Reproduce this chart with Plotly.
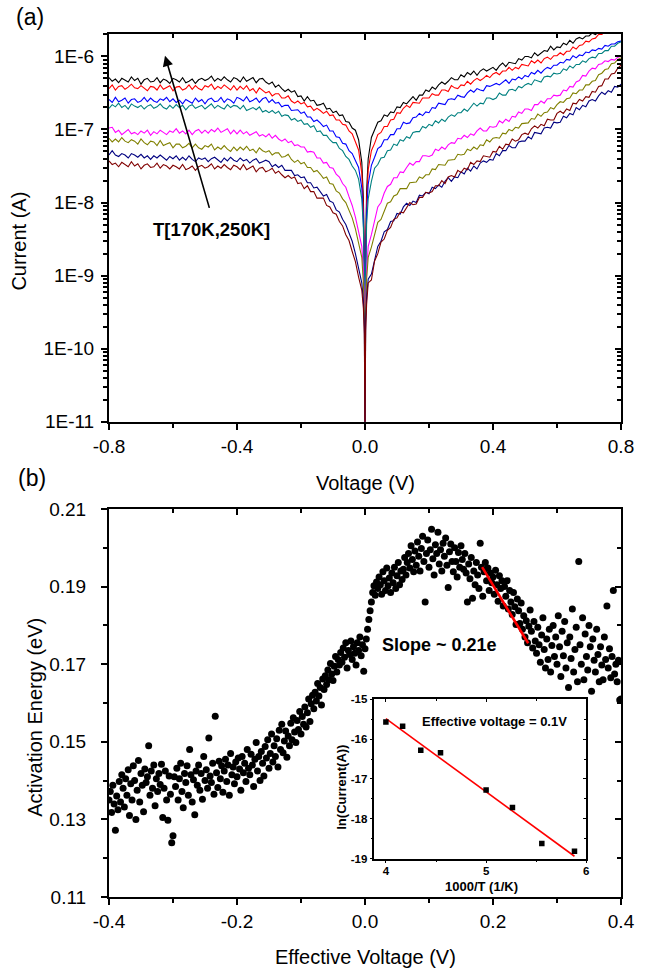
import numpy as np
import plotly.graph_objects as go

FONT = "Liberation Sans, Arial, Helvetica, sans-serif"

# ---------------- panel (a): I-V sweeps at eight temperatures ----------------
TEMPERATURES_K = [250, 240, 230, 220, 200, 190, 180, 170]
CURVE_COLORS = ["#000000", "#FF0000", "#0000FF", "#008080",
                "#FF00FF", "#808000", "#000080", "#800000"]

# bias sweep: 10 mV steps, with a few extra points around 0 V
VOLTAGE_V = np.concatenate([
    np.round(np.arange(-0.80, -0.0099, 0.01), 2),
    [-0.005, -0.002, 0.0, 0.002, 0.005],
    np.round(np.arange(0.01, 0.8001, 0.01), 2),
])

# log10 of the measured current (A), same order as VOLTAGE_V
LOG_I_250K = [
    -6.29, -6.34, -6.31, -6.36, -6.30, -6.32, -6.35, -6.28, -6.33, -6.30,
    -6.38, -6.32, -6.30, -6.35, -6.34, -6.29, -6.36, -6.31, -6.33, -6.37,
    -6.30, -6.32, -6.35, -6.29, -6.36, -6.34, -6.31, -6.37, -6.32, -6.30,
    -6.33, -6.31, -6.27, -6.34, -6.30, -6.33, -6.28, -6.32, -6.35, -6.29,
    -6.31, -6.35, -6.28, -6.34, -6.32, -6.29, -6.36, -6.31, -6.30, -6.35,
    -6.38, -6.35, -6.42, -6.39, -6.44, -6.48, -6.45, -6.49, -6.47, -6.55,
    -6.54, -6.61, -6.55, -6.61, -6.60, -6.67, -6.66, -6.64, -6.72, -6.71,
    -6.77, -6.75, -6.81, -6.80, -6.89, -6.90, -6.98, -7.01, -7.14, -7.45,
    -7.95, -8.75, -11.30, -8.65, -7.85,
    -7.40, -7.11, -7.01, -6.90, -6.88, -6.80, -6.82, -6.76, -6.77, -6.69,
    -6.70, -6.63, -6.65, -6.60, -6.55, -6.60, -6.53, -6.53, -6.46, -6.48,
    -6.42, -6.45, -6.39, -6.35, -6.38, -6.34, -6.29, -6.32, -6.32, -6.25,
    -6.28, -6.22, -6.25, -6.20, -6.26, -6.20, -6.17, -6.20, -6.18, -6.15,
    -6.19, -6.13, -6.09, -6.14, -6.08, -6.09, -6.10, -6.03, -6.05, -6.00,
    -6.00, -6.02, -5.95, -5.99, -5.95, -5.92, -5.93, -5.86, -5.91, -5.87,
    -5.88, -5.82, -5.84, -5.78, -5.82, -5.76, -5.74, -5.76, -5.72, -5.72,
    -5.68, -5.70, -5.67, -5.69, -5.64, -5.66, -5.63, -5.63, -5.63, -5.60]
LOG_I_240K = [
    -6.44, -6.39, -6.46, -6.41, -6.40, -6.45, -6.42, -6.38, -6.43, -6.44,
    -6.40, -6.44, -6.47, -6.41, -6.42, -6.46, -6.39, -6.45, -6.43, -6.40,
    -6.47, -6.42, -6.41, -6.46, -6.44, -6.39, -6.45, -6.40, -6.44, -6.46,
    -6.40, -6.42, -6.38, -6.45, -6.41, -6.44, -6.39, -6.43, -6.46, -6.40,
    -6.46, -6.41, -6.45, -6.40, -6.47, -6.44, -6.50, -6.43, -6.47, -6.50,
    -6.48, -6.54, -6.51, -6.51, -6.57, -6.57, -6.54, -6.61, -6.64, -6.61,
    -6.65, -6.63, -6.69, -6.68, -6.74, -6.71, -6.74, -6.78, -6.75, -6.81,
    -6.80, -6.87, -6.87, -6.93, -6.94, -7.02, -7.06, -7.17, -7.28, -7.60,
    -8.10, -8.85, -11.30, -8.80, -8.00,
    -7.55, -7.29, -7.19, -7.07, -7.04, -6.96, -6.96, -6.87, -6.86, -6.77,
    -6.78, -6.71, -6.67, -6.70, -6.63, -6.63, -6.64, -6.57, -6.57, -6.57,
    -6.51, -6.53, -6.53, -6.46, -6.46, -6.48, -6.40, -6.43, -6.44, -6.39,
    -6.40, -6.34, -6.38, -6.33, -6.30, -6.33, -6.30, -6.26, -6.29, -6.24,
    -6.22, -6.25, -6.20, -6.20, -6.15, -6.19, -6.15, -6.17, -6.11, -6.12,
    -6.13, -6.06, -6.09, -6.05, -6.09, -6.03, -6.01, -6.04, -5.99, -5.99,
    -5.95, -5.98, -5.93, -5.93, -5.87, -5.90, -5.85, -5.84, -5.79, -5.80,
    -5.76, -5.75, -5.70, -5.70, -5.66, -5.65, -5.65, -5.61, -5.61, -5.59]
LOG_I_230K = [
    -6.59, -6.63, -6.56, -6.62, -6.60, -6.57, -6.64, -6.59, -6.58, -6.63,
    -6.61, -6.56, -6.62, -6.57, -6.61, -6.63, -6.58, -6.60, -6.56, -6.62,
    -6.58, -6.63, -6.60, -6.65, -6.59, -6.61, -6.64, -6.57, -6.62, -6.59,
    -6.65, -6.59, -6.57, -6.62, -6.61, -6.56, -6.63, -6.58, -6.60, -6.64,
    -6.56, -6.58, -6.61, -6.55, -6.62, -6.60, -6.57, -6.63, -6.58, -6.56,
    -6.63, -6.59, -6.64, -6.63, -6.69, -6.67, -6.67, -6.74, -6.73, -6.73,
    -6.78, -6.76, -6.83, -6.83, -6.89, -6.87, -6.91, -6.96, -6.94, -7.02,
    -7.02, -7.10, -7.11, -7.19, -7.20, -7.29, -7.33, -7.43, -7.52, -7.80,
    -8.25, -8.95, -11.30, -8.90, -8.15,
    -7.75, -7.49, -7.38, -7.26, -7.23, -7.14, -7.14, -7.07, -7.07, -6.99,
    -6.99, -6.90, -6.92, -6.91, -6.84, -6.83, -6.78, -6.81, -6.76, -6.77,
    -6.70, -6.71, -6.64, -6.65, -6.66, -6.59, -6.58, -6.59, -6.53, -6.55,
    -6.56, -6.50, -6.46, -6.49, -6.44, -6.46, -6.47, -6.40, -6.41, -6.39,
    -6.37, -6.39, -6.35, -6.32, -6.37, -6.31, -6.32, -6.28, -6.31, -6.26,
    -6.28, -6.22, -6.24, -6.19, -6.23, -6.18, -6.15, -6.17, -6.12, -6.12,
    -6.08, -6.09, -6.04, -6.05, -5.99, -6.02, -5.98, -5.99, -5.94, -5.95,
    -5.91, -5.92, -5.89, -5.90, -5.85, -5.86, -5.83, -5.83, -5.80, -5.79]
LOG_I_220K = [
    -6.71, -6.66, -6.69, -6.64, -6.70, -6.67, -6.72, -6.65, -6.68, -6.70,
    -6.67, -6.72, -6.68, -6.66, -6.71, -6.69, -6.65, -6.70, -6.72, -6.67,
    -6.71, -6.66, -6.70, -6.67, -6.73, -6.68, -6.66, -6.71, -6.69, -6.67,
    -6.72, -6.68, -6.65, -6.71, -6.67, -6.70, -6.72, -6.66, -6.70, -6.67,
    -6.68, -6.72, -6.67, -6.74, -6.72, -6.70, -6.73, -6.69, -6.76, -6.74,
    -6.77, -6.74, -6.78, -6.75, -6.82, -6.80, -6.81, -6.87, -6.85, -6.89,
    -6.87, -6.93, -6.92, -6.97, -6.95, -7.03, -7.02, -7.08, -7.08, -7.14,
    -7.18, -7.18, -7.26, -7.29, -7.37, -7.41, -7.50, -7.56, -7.68, -7.95,
    -8.35, -9.05, -11.30, -9.00, -8.30,
    -7.95, -7.71, -7.53, -7.48, -7.39, -7.38, -7.29, -7.28, -7.20, -7.22,
    -7.14, -7.16, -7.10, -7.12, -7.04, -7.03, -7.03, -6.96, -6.98, -6.93,
    -6.95, -6.88, -6.91, -6.86, -6.89, -6.83, -6.80, -6.82, -6.77, -6.77,
    -6.72, -6.75, -6.69, -6.64, -6.68, -6.64, -6.65, -6.57, -6.57, -6.59,
    -6.57, -6.50, -6.53, -6.53, -6.46, -6.45, -6.47, -6.41, -6.43, -6.39,
    -6.37, -6.39, -6.32, -6.34, -6.35, -6.28, -6.27, -6.28, -6.23, -6.24,
    -6.23, -6.17, -6.19, -6.13, -6.16, -6.11, -6.11, -6.06, -6.08, -6.03,
    -6.01, -6.02, -5.96, -5.96, -5.92, -5.92, -5.86, -5.86, -5.82, -5.80]
LOG_I_200K = [
    -6.98, -6.97, -7.04, -7.01, -7.07, -7.03, -7.00, -7.06, -7.04, -7.07,
    -7.02, -7.05, -7.01, -7.08, -7.03, -7.06, -7.01, -7.04, -7.07, -7.02,
    -7.04, -6.99, -7.05, -7.02, -7.06, -7.01, -7.07, -7.02, -7.00, -7.05,
    -7.01, -7.05, -7.00, -7.03, -6.98, -7.04, -7.02, -6.99, -7.06, -7.01,
    -7.06, -7.01, -7.06, -7.03, -7.08, -7.05, -7.03, -7.09, -7.07, -7.10,
    -7.06, -7.12, -7.08, -7.13, -7.16, -7.13, -7.18, -7.16, -7.22, -7.21,
    -7.24, -7.24, -7.31, -7.30, -7.31, -7.39, -7.39, -7.46, -7.45, -7.52,
    -7.53, -7.61, -7.65, -7.74, -7.79, -7.92, -8.04, -8.20, -8.40, -8.60,
    -8.95, -9.40, -11.30, -9.40, -8.95,
    -8.60, -8.44, -8.24, -8.06, -8.00, -7.87, -7.78, -7.75, -7.66, -7.66,
    -7.58, -7.59, -7.52, -7.46, -7.49, -7.44, -7.44, -7.36, -7.36, -7.37,
    -7.35, -7.27, -7.29, -7.24, -7.27, -7.21, -7.18, -7.19, -7.12, -7.13,
    -7.08, -7.11, -7.06, -7.08, -7.02, -6.98, -7.02, -7.02, -6.96, -6.97,
    -6.96, -6.88, -6.91, -6.86, -6.89, -6.82, -6.83, -6.76, -6.78, -6.72,
    -6.72, -6.74, -6.66, -6.66, -6.61, -6.64, -6.58, -6.58, -6.53, -6.54,
    -6.53, -6.46, -6.47, -6.41, -6.42, -6.35, -6.33, -6.26, -6.27, -6.20,
    -6.16, -6.17, -6.11, -6.10, -6.06, -6.07, -6.04, -6.05, -6.01, -6.00]
LOG_I_190K = [
    -7.12, -7.17, -7.13, -7.17, -7.11, -7.16, -7.18, -7.14, -7.16, -7.20,
    -7.13, -7.18, -7.21, -7.16, -7.17, -7.22, -7.15, -7.22, -7.20, -7.18,
    -7.25, -7.20, -7.20, -7.25, -7.23, -7.19, -7.25, -7.20, -7.25, -7.27,
    -7.22, -7.24, -7.20, -7.28, -7.24, -7.27, -7.22, -7.27, -7.30, -7.24,
    -7.29, -7.24, -7.28, -7.23, -7.29, -7.27, -7.32, -7.25, -7.29, -7.31,
    -7.29, -7.35, -7.32, -7.32, -7.38, -7.37, -7.34, -7.41, -7.45, -7.42,
    -7.47, -7.45, -7.52, -7.52, -7.58, -7.56, -7.61, -7.67, -7.65, -7.74,
    -7.75, -7.84, -7.87, -7.95, -8.00, -8.12, -8.21, -8.36, -8.55, -8.75,
    -9.10, -9.50, -11.30, -9.50, -9.05,
    -8.75, -8.61, -8.44, -8.27, -8.23, -8.11, -8.01, -7.99, -7.91, -7.89,
    -7.81, -7.81, -7.81, -7.73, -7.72, -7.72, -7.65, -7.67, -7.62, -7.62,
    -7.54, -7.55, -7.48, -7.49, -7.49, -7.42, -7.41, -7.41, -7.34, -7.35,
    -7.34, -7.27, -7.29, -7.24, -7.27, -7.21, -7.22, -7.14, -7.17, -7.12,
    -7.11, -7.12, -7.05, -7.06, -7.00, -7.02, -6.97, -6.98, -6.92, -6.92,
    -6.91, -6.85, -6.86, -6.79, -6.82, -6.77, -6.76, -6.70, -6.72, -6.66,
    -6.62, -6.63, -6.58, -6.57, -6.50, -6.51, -6.46, -6.46, -6.39, -6.39,
    -6.34, -6.33, -6.25, -6.23, -6.18, -6.17, -6.10, -6.09, -6.04, -6.02]
LOG_I_180K = [
    -7.35, -7.29, -7.35, -7.37, -7.33, -7.35, -7.39, -7.33, -7.35, -7.38,
    -7.34, -7.39, -7.36, -7.41, -7.36, -7.39, -7.35, -7.38, -7.42, -7.37,
    -7.40, -7.36, -7.42, -7.38, -7.42, -7.36, -7.41, -7.44, -7.39, -7.41,
    -7.39, -7.44, -7.40, -7.38, -7.42, -7.45, -7.39, -7.43, -7.38, -7.42,
    -7.44, -7.39, -7.43, -7.41, -7.46, -7.42, -7.40, -7.46, -7.44, -7.42,
    -7.44, -7.51, -7.48, -7.52, -7.49, -7.56, -7.56, -7.56, -7.63, -7.62,
    -7.66, -7.65, -7.73, -7.73, -7.80, -7.79, -7.85, -7.91, -7.89, -7.98,
    -8.00, -8.10, -8.13, -8.23, -8.30, -8.43, -8.53, -8.70, -8.92, -9.10,
    -9.35, -9.70, -11.30, -9.65, -9.30,
    -9.05, -8.98, -8.81, -8.60, -8.53, -8.40, -8.37, -8.26, -8.25, -8.15,
    -8.16, -8.06, -8.01, -8.04, -7.98, -8.00, -7.90, -7.91, -7.86, -7.88,
    -7.79, -7.81, -7.76, -7.79, -7.71, -7.66, -7.71, -7.65, -7.66, -7.58,
    -7.61, -7.53, -7.57, -7.50, -7.54, -7.46, -7.43, -7.45, -7.41, -7.42,
    -7.33, -7.36, -7.29, -7.29, -7.22, -7.25, -7.25, -7.17, -7.16, -7.16,
    -7.10, -7.13, -7.04, -7.05, -7.06, -6.98, -6.97, -6.98, -6.90, -6.91,
    -6.90, -6.82, -6.84, -6.78, -6.80, -6.70, -6.73, -6.67, -6.69, -6.61,
    -6.59, -6.61, -6.54, -6.49, -6.52, -6.47, -6.49, -6.41, -6.42, -6.38]
LOG_I_170K = [
    -7.43, -7.48, -7.46, -7.51, -7.45, -7.48, -7.51, -7.44, -7.50, -7.47,
    -7.54, -7.49, -7.47, -7.52, -7.51, -7.46, -7.53, -7.48, -7.50, -7.54,
    -7.49, -7.51, -7.54, -7.48, -7.55, -7.53, -7.50, -7.56, -7.51, -7.49,
    -7.53, -7.51, -7.47, -7.54, -7.50, -7.53, -7.48, -7.52, -7.55, -7.49,
    -7.51, -7.55, -7.48, -7.55, -7.53, -7.50, -7.58, -7.53, -7.52, -7.58,
    -7.56, -7.53, -7.60, -7.57, -7.62, -7.66, -7.63, -7.67, -7.65, -7.74,
    -7.73, -7.81, -7.77, -7.85, -7.85, -7.94, -7.94, -7.94, -8.04, -8.06,
    -8.14, -8.16, -8.26, -8.32, -8.44, -8.52, -8.67, -8.81, -9.02, -9.20,
    -9.45, -9.80, -11.30, -9.75, -9.40,
    -9.10, -9.06, -8.80, -8.70, -8.54, -8.50, -8.38, -8.34, -8.23, -8.21,
    -8.13, -8.14, -8.06, -8.00, -8.03, -8.02, -7.93, -7.93, -7.86, -7.87,
    -7.85, -7.77, -7.77, -7.70, -7.74, -7.65, -7.63, -7.65, -7.56, -7.59,
    -7.53, -7.55, -7.45, -7.48, -7.43, -7.44, -7.36, -7.37, -7.38, -7.30,
    -7.31, -7.23, -7.27, -7.20, -7.21, -7.13, -7.16, -7.14, -7.07, -7.05,
    -7.07, -6.99, -6.95, -6.98, -6.93, -6.95, -6.86, -6.87, -6.87, -6.78,
    -6.75, -6.78, -6.72, -6.74, -6.64, -6.65, -6.59, -6.61, -6.55, -6.56,
    -6.48, -6.49, -6.41, -6.40, -6.31, -6.31, -6.24, -6.23, -6.16, -6.12]
LOG_CURRENTS = [LOG_I_250K, LOG_I_240K, LOG_I_230K, LOG_I_220K,
                LOG_I_200K, LOG_I_190K, LOG_I_180K, LOG_I_170K]

CURRENT_TICK_VALUES = [1e-11, 1e-10, 1e-9, 1e-8, 1e-7, 1e-6]
CURRENT_TICK_TEXT = ["1E-11", "1E-10", "1E-9", "1E-8", "1E-7", "1E-6"]
VOLTAGE_TICK_VALUES = [-0.8, -0.4, 0.0, 0.4, 0.8]
VOLTAGE_TICK_TEXT = ["-0.8", "-0.4", "0.0", "0.4", "0.8"]
VOLTAGE_MINOR_TICKS = [-0.6, -0.2, 0.2, 0.6]

# ---------------- panel (b): activation energy vs effective voltage ----------------
EFFECTIVE_VOLTAGE_V = np.round(np.arange(-0.4, 0.4 + 1e-9, 0.002), 3)
ACTIVATION_ENERGY_EV = [
    0.1350, 0.1372, 0.1318, 0.1388, 0.1340, 0.1272, 0.1360, 0.1325, 0.1398, 0.1345,
    0.1415, 0.1380, 0.1332, 0.1405, 0.1362, 0.1428, 0.1310, 0.1392, 0.1350, 0.1438,
    0.1400, 0.1300, 0.1375, 0.1452, 0.1345, 0.1418, 0.1388, 0.1320, 0.1430, 0.1395,
    0.1410, 0.1490, 0.1362, 0.1425, 0.1380, 0.1440, 0.1335, 0.1405, 0.1372, 0.1418,
    0.1390, 0.1442, 0.1305, 0.1380, 0.1425, 0.1350, 0.1298, 0.1412, 0.1365, 0.1240,
    0.1258, 0.1410, 0.1385, 0.1432, 0.1350, 0.1405, 0.1445, 0.1372, 0.1330, 0.1418,
    0.1395, 0.1438, 0.1362, 0.1480, 0.1415, 0.1345, 0.1402, 0.1312, 0.1425, 0.1388,
    0.1440, 0.1375, 0.1418, 0.1352, 0.1462, 0.1400, 0.1428, 0.1380, 0.1510, 0.1412,
    0.1395, 0.1445, 0.1365, 0.1566, 0.1420, 0.1382, 0.1450, 0.1405, 0.1438, 0.1370,
    0.1425, 0.1455, 0.1398, 0.1440, 0.1362, 0.1470, 0.1415, 0.1435, 0.1392, 0.1448,
    0.1410, 0.1458, 0.1430, 0.1375, 0.1462, 0.1420, 0.1445, 0.1398, 0.1480, 0.1432,
    0.1415, 0.1468, 0.1440, 0.1385, 0.1455, 0.1498, 0.1425, 0.1462, 0.1400, 0.1475,
    0.1445, 0.1412, 0.1488, 0.1458, 0.1505, 0.1432, 0.1470, 0.1520, 0.1448, 0.1490,
    0.1462, 0.1508, 0.1435, 0.1530, 0.1480, 0.1545, 0.1472, 0.1502, 0.1528, 0.1460,
    0.1515, 0.1490, 0.1548, 0.1505, 0.1562, 0.1525, 0.1498, 0.1555, 0.1532, 0.1578,
    0.1520, 0.1565, 0.1545, 0.1590, 0.1538, 0.1575, 0.1610, 0.1552, 0.1598, 0.1620,
    0.1585, 0.1628, 0.1605, 0.1650, 0.1618, 0.1640, 0.1595, 0.1662, 0.1635, 0.1670,
    0.1648, 0.1685, 0.1660, 0.1702, 0.1675, 0.1658, 0.1695, 0.1720, 0.1680, 0.1712,
    0.1698, 0.1730, 0.1705, 0.1742, 0.1718, 0.1755, 0.1690, 0.1735, 0.1725, 0.1760,
    0.1712, 0.1745, 0.1728, 0.1698, 0.1755, 0.1735, 0.1770, 0.1722, 0.1750, 0.1682,
    0.1740, 0.1765, 0.1790, 0.1815, 0.1838, 0.1860, 0.1885, 0.1902, 0.1878, 0.1912,
    0.1895, 0.1925, 0.1905, 0.1880, 0.1938, 0.1915, 0.1890, 0.1948, 0.1902, 0.1922,
    0.1885, 0.1935, 0.1910, 0.1950, 0.1895, 0.1928, 0.1962, 0.1905, 0.1940, 0.1918,
    0.1945, 0.1975, 0.1930, 0.1962, 0.1985, 0.1948, 0.2005, 0.1970, 0.1938, 0.1992,
    0.1955, 0.2015, 0.1978, 0.1940, 0.1998, 0.2030, 0.1965, 0.1860, 0.1985, 0.2020,
    0.1950, 0.1995, 0.2048, 0.1972, 0.1930, 0.2008, 0.1985, 0.2040, 0.1958, 0.1995,
    0.1940, 0.2012, 0.1978, 0.2025, 0.1955, 0.1898, 0.1990, 0.2010, 0.1965, 0.1938,
    0.2000, 0.1965, 0.1925, 0.1988, 0.1950, 0.2005, 0.1970, 0.1945, 0.1985, 0.1935,
    0.1860, 0.1958, 0.1920, 0.1975, 0.1870, 0.1940, 0.1905, 0.1962, 0.1930, 0.1895,
    0.2012, 0.1950, 0.1875, 0.1938, 0.1962, 0.1915, 0.1948, 0.1890, 0.1935, 0.1910,
    0.1925, 0.1880, 0.1942, 0.1905, 0.1862, 0.1928, 0.1895, 0.1915, 0.1850, 0.1900,
    0.1875, 0.1915, 0.1842, 0.1890, 0.1860, 0.1828, 0.1885, 0.1848, 0.1802, 0.1868,
    0.1838, 0.1805, 0.1858, 0.1790, 0.1825, 0.1770, 0.1812, 0.1755, 0.1798, 0.1840,
    0.1785, 0.1742, 0.1810, 0.1760, 0.1728, 0.1795, 0.1750, 0.1705, 0.1775, 0.1820,
    0.1738, 0.1690, 0.1765, 0.1712, 0.1790, 0.1680, 0.1748, 0.1800, 0.1720, 0.1770,
    0.1700, 0.1825, 0.1745, 0.1668, 0.1785, 0.1722, 0.1810, 0.1690, 0.1755, 0.1640,
    0.1770, 0.1715, 0.1842, 0.1680, 0.1738, 0.1795, 0.1655, 0.1965, 0.1750, 0.1700,
    0.1820, 0.1660, 0.1778, 0.1720, 0.1685, 0.1800, 0.1745, 0.1630, 0.1765, 0.1710,
    0.1680, 0.1790, 0.1725, 0.1655, 0.1745, 0.1698, 0.1660, 0.1770, 0.1712, 0.1850,
    0.1690, 0.1740, 0.1665, 0.1720, 0.1890, 0.1675, 0.1700, 0.1655, 0.1710, 0.1608,
    0.1610,
]
SLOPE_LINE_V = [0.183, 0.255]
SLOPE_LINE_EV = [0.195, 0.1754]

EV_X_TICKS = [-0.4, -0.2, 0.0, 0.2, 0.4]
EV_X_TEXT = ["-0.4", "-0.2", "0.0", "0.2", "0.4"]
EV_X_MINOR = [-0.3, -0.1, 0.1, 0.3]
EA_Y_TICKS = [0.11, 0.13, 0.15, 0.17, 0.19, 0.21]
EA_Y_TEXT = ["0.11", "0.13", "0.15", "0.17", "0.19", "0.21"]
EA_Y_MINOR = [0.12, 0.14, 0.16, 0.18, 0.20]

# ---------------- inset: Arrhenius plot at 0.1 V ----------------
INVERSE_T = [4.000, 4.167, 4.348, 4.545, 5.000, 5.263, 5.556, 5.882]
LN_CURRENT = [-15.57, -15.68, -16.28, -16.34, -17.28, -17.72, -18.62, -18.82]
INSET_X_TICKS = [4, 5, 6]
INSET_X_TEXT = ["<b>4</b>", "<b>5</b>", "<b>6</b>"]
INSET_X_MINOR = [4.5, 5.5]
INSET_Y_TICKS = [-19, -18, -17, -16, -15]
INSET_Y_TEXT = ["<b>-19</b>", "<b>-18</b>", "<b>-17</b>", "<b>-16</b>", "<b>-15</b>"]
INSET_Y_MINOR = [-18.5, -17.5, -16.5, -15.5]

for series in LOG_CURRENTS:
    assert len(series) == len(VOLTAGE_V), len(series)
assert len(ACTIVATION_ENERGY_EV) == len(EFFECTIVE_VOLTAGE_V)

# ---------------- page geometry (pixels) ----------------
W, H = 647, 973
ML, MR, MT, MB = 109, 14, 34, 76
PW, PH = W - ML - MR, H - MT - MB


def fx(px):
    return (px - ML) / PW


def fy(py):
    return (H - MB - py) / PH


TOP_DOMAIN = [fy(421.7), 1.0]
BOTTOM_DOMAIN = [0.0, fy(509.0)]
INSET_X_DOMAIN = [fx(380.7), fx(597.5)]
INSET_Y_DOMAIN = [fy(858.5), fy(699.3)]

I_RANGE = [-11.0, -5.693]
LOG_MINOR = [m * 10.0 ** e for e in range(-11, -6) for m in range(2, 10)] + [2e-6]

fig = go.Figure()

for temp, color, logs in zip(TEMPERATURES_K, CURVE_COLORS, LOG_CURRENTS):
    fig.add_trace(go.Scatter(
        x=VOLTAGE_V, y=[10.0 ** v for v in logs], mode="lines",
        line=dict(color=color, width=1.1), name=f"{temp} K",
        xaxis="x", yaxis="y", showlegend=False))

fig.add_trace(go.Scatter(
    x=EFFECTIVE_VOLTAGE_V, y=ACTIVATION_ENERGY_EV, mode="markers",
    marker=dict(color="black", size=7, line=dict(width=0)),
    xaxis="x3", yaxis="y3", showlegend=False))
fig.add_trace(go.Scatter(
    x=SLOPE_LINE_V, y=SLOPE_LINE_EV, mode="lines",
    line=dict(color="#FF0000", width=2.6), xaxis="x3", yaxis="y3", showlegend=False))

slope, intercept = np.polyfit(INVERSE_T, LN_CURRENT, 1)
fit_x = [min(INVERSE_T), max(INVERSE_T)]
fit_y = [slope * v + intercept for v in fit_x]
fig.add_trace(go.Scatter(
    x=fit_x, y=fit_y, mode="lines", line=dict(color="#FF0000", width=1.6),
    xaxis="x5", yaxis="y5", showlegend=False))
fig.add_trace(go.Scatter(
    x=INVERSE_T, y=LN_CURRENT, mode="markers",
    marker=dict(symbol="square", color="black", size=5.5, line=dict(width=0)),
    xaxis="x5", yaxis="y5", showlegend=False))

# invisible anchors so the mirrored tick axes are rendered
for xa, ya in [("x2", "y"), ("x", "y2"), ("x4", "y3"),
               ("x3", "y4"), ("x6", "y5"), ("x5", "y6")]:
    fig.add_trace(go.Scatter(x=[None], y=[None], xaxis=xa, yaxis=ya, mode="markers",
                             hoverinfo="skip", showlegend=False))

TICKFONT = dict(family=FONT, size=19, color="black")
INSET_TICKFONT = dict(family=FONT, size=11.5, color="black")


def main_axis(rng, vals, text, minor_vals, **kw):
    d = dict(range=rng, tickmode="array", tickvals=vals, ticktext=text,
             ticks="outside", ticklen=6, tickwidth=1.5, tickcolor="black",
             showline=True, linecolor="black", linewidth=2, mirror=True,
             showgrid=False, zeroline=False, tickfont=TICKFONT,
             minor=dict(tickmode="array", tickvals=minor_vals, ticks="outside",
                        ticklen=4, tickwidth=1.5, tickcolor="black", showgrid=False))
    d.update(kw)
    return d


def mirror_axis(rng, vals, minor_vals, ticklen=6, minorlen=4, width=1.5, **kw):
    d = dict(range=rng, tickmode="array", tickvals=vals, ticks="inside",
             ticklen=ticklen, tickwidth=width, tickcolor="black",
             showticklabels=False, showline=False, showgrid=False, zeroline=False,
             minor=dict(tickmode="array", tickvals=minor_vals, ticks="inside",
                        ticklen=minorlen, tickwidth=width, tickcolor="black",
                        showgrid=False))
    d.update(kw)
    return d


layout = dict(
    width=W, height=H, autosize=False,
    margin=dict(l=ML, r=MR, t=MT, b=MB, pad=0),
    paper_bgcolor="white", plot_bgcolor="white",
    font=dict(family=FONT, color="black"),
    showlegend=False,
    # panel (a)
    xaxis=main_axis([-0.8, 0.8], VOLTAGE_TICK_VALUES, VOLTAGE_TICK_TEXT,
                    VOLTAGE_MINOR_TICKS, domain=[0, 1], anchor="y"),
    yaxis=main_axis(I_RANGE, CURRENT_TICK_VALUES, CURRENT_TICK_TEXT, LOG_MINOR,
                    type="log", domain=TOP_DOMAIN, anchor="x", ticklabelstandoff=3),
    xaxis2=mirror_axis([-0.8, 0.8], VOLTAGE_TICK_VALUES, VOLTAGE_MINOR_TICKS,
                       overlaying="x", anchor="y", side="top"),
    yaxis2=mirror_axis(I_RANGE, CURRENT_TICK_VALUES, LOG_MINOR, type="log",
                       overlaying="y", anchor="x", side="right"),
    # panel (b)
    xaxis3=main_axis([-0.4, 0.4], EV_X_TICKS, EV_X_TEXT, EV_X_MINOR,
                     domain=[0, 1], anchor="y3"),
    yaxis3=main_axis([0.11, 0.21], EA_Y_TICKS, EA_Y_TEXT, EA_Y_MINOR,
                     domain=BOTTOM_DOMAIN, anchor="x3", ticklabelstandoff=11),
    xaxis4=mirror_axis([-0.4, 0.4], EV_X_TICKS, EV_X_MINOR,
                       overlaying="x3", anchor="y3", side="top"),
    yaxis4=mirror_axis([0.11, 0.21], EA_Y_TICKS, EA_Y_MINOR,
                       overlaying="y3", anchor="x3", side="right"),
    # inset
    xaxis5=dict(range=[3.886, 6.0], domain=INSET_X_DOMAIN, anchor="y5",
                tickmode="array", tickvals=INSET_X_TICKS, ticktext=INSET_X_TEXT,
                ticks="outside", ticklen=3, tickwidth=1.2, tickcolor="black",
                showline=True, linecolor="black", linewidth=1.6, mirror=True,
                showgrid=False, zeroline=False, tickfont=INSET_TICKFONT,
                ticklabelstandoff=-2,
                minor=dict(tickmode="array", tickvals=INSET_X_MINOR, ticks="outside",
                           ticklen=2, tickwidth=1.2, tickcolor="black")),
    yaxis5=dict(range=[-19, -15], domain=INSET_Y_DOMAIN, anchor="x5",
                tickmode="array", tickvals=INSET_Y_TICKS, ticktext=INSET_Y_TEXT,
                ticks="outside", ticklen=3, tickwidth=1.2, tickcolor="black",
                showline=True, linecolor="black", linewidth=1.6, mirror=True,
                showgrid=False, zeroline=False, tickfont=INSET_TICKFONT,
                minor=dict(tickmode="array", tickvals=INSET_Y_MINOR, ticks="outside",
                           ticklen=2, tickwidth=1.2, tickcolor="black")),
    xaxis6=mirror_axis([3.886, 6.0], INSET_X_TICKS, INSET_X_MINOR, ticklen=3,
                       minorlen=2, width=1.2, overlaying="x5", anchor="y5", side="top"),
    yaxis6=mirror_axis([-19, -15], INSET_Y_TICKS, INSET_Y_MINOR, ticklen=3,
                       minorlen=2, width=1.2, overlaying="y5", anchor="x5", side="right"),
)
fig.update_layout(**layout)


def paper_text(text, px, py, size, angle=0):
    fig.add_annotation(text=text, x=fx(px), y=fy(py), xref="paper", yref="paper",
                       showarrow=False, textangle=angle, xanchor="center",
                       yanchor="middle", font=dict(family=FONT, size=size, color="black"))


paper_text("(a)", 28.5, 17.5, 23)
paper_text("(b)", 30, 478, 23)
paper_text("Voltage (V)", 371, 483, 20)
paper_text("Current (A)", 16.5, 241, 20, -90)
paper_text("Effective Voltage (V)", 372, 957, 20)
paper_text("Activation Energy (eV)", 33, 717, 20, -90)
paper_text("<b>Effective voltage = 0.1V</b>", 504, 721, 13)
paper_text("<b>1000/T (1/K)</b>", 490.5, 886, 13)
paper_text("<b>ln(Current(A))</b>", 346.7, 787.5, 13, -90)

# temperature arrow and label in panel (a)
fig.add_annotation(x=-0.625, y=-5.99, ax=-0.485, ay=-8.094, xref="x", yref="y",
                   axref="x", ayref="y", text="", showarrow=True, arrowhead=2,
                   arrowsize=1.3, arrowwidth=1.6, arrowcolor="black")
fig.add_annotation(x=-0.479, y=-8.37, xref="x", yref="y", showarrow=False,
                   text="<b>T[170K,250K]</b>",
                   font=dict(family=FONT, size=18.5, color="black"))

fig.add_annotation(x=0.116, y=0.1749, xref="x3", yref="y3", showarrow=False,
                   text="<b>Slope ~ 0.21e</b>",
                   font=dict(family=FONT, size=18, color="black"))

fig.write_html("out.html")
